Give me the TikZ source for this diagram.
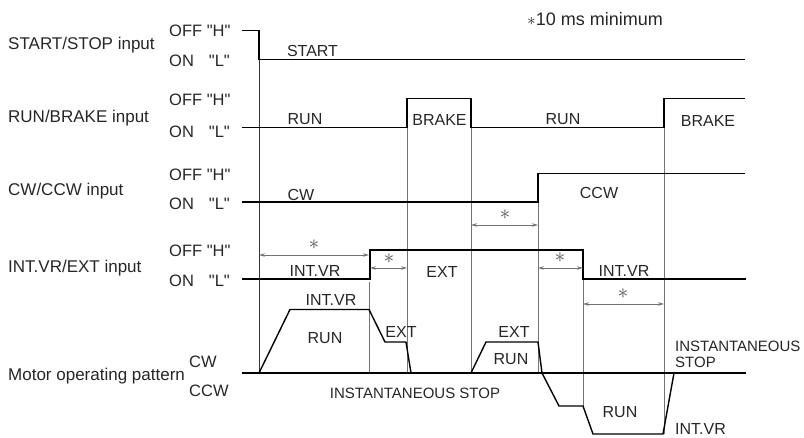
\documentclass[tikz,border=0pt]{standalone}
\usepackage{fontspec}
\setmainfont{Liberation Sans}[Ligatures=TeXOff]
\usetikzlibrary{arrows.meta}
\newcommand\fsz[1]{\fontsize{#1}{#1}\selectfont}
\begin{document}
\begin{tikzpicture}[x=1pt,y=-1pt,
  sig/.style={line width=1.4pt, black, line join=miter},
  guide/.style={line width=0.8pt, black!55},
  dimarrow/.style={line width=0.8pt, black!55, {Stealth[length=6pt,width=3.5pt]}-{Stealth[length=6pt,width=3.5pt]}},
  lab/.style={inner sep=0, anchor=base west, font=\fsz{17}, text=black!85},
  lvl/.style={inner sep=0, anchor=base west, font=\fsz{16.5}, text=black!85},
  lvlr/.style={inner sep=0, anchor=base east, font=\fsz{16.5}, text=black!85},
  txt/.style={inner sep=0, anchor=base, font=\fsz{16}, text=black!85},
  txtw/.style={inner sep=0, anchor=base west, font=\fsz{16}, text=black!85},
  star/.style={inner sep=0, text=black!70, font=\fsz{20}},
]
\useasboundingbox (0,0) rectangle (804,437);

% guide lines
\draw[line width=0.9pt, black!80] (259,59.5) -- (259,373);
\draw[guide] (369,282) -- (369,373);
\draw[guide] (407,127.5) -- (407,373);
\draw[guide] (471,127.5) -- (471,373);
\draw[guide] (538,202) -- (538,373);
\draw[guide] (583,279) -- (583,406);
\draw[guide] (664,127.5) -- (664,434);

% signals
\draw[sig] (242,30.5) -- (259,30.5) -- (259,59.5) -- (745,59.5);
\draw[sig] (242,127.5) -- (407,127.5) -- (407,98.5) -- (471,98.5) -- (471,127.5) -- (664,127.5) -- (664,98.5) -- (745,98.5);
\draw[sig] (242,202) -- (538,202) -- (538,173.5) -- (745,173.5);
\draw[sig] (242,279) -- (370,279) -- (370,250) -- (583,250) -- (583,279) -- (746,279);
\draw[sig] (242,373) -- (746,373);
\draw[sig, line join=round] (259,373) -- (290,309.5) -- (369,309.5) -- (385,342) -- (406,342) -- (411,373) -- (471,373) -- (486,342) -- (538,342) -- (542,373) -- (559,406) -- (583,406) -- (593,434) -- (663,434) -- (674,373);

% dimension arrows
\draw[dimarrow] (259,255) -- (369,255);
\node[star] (s1) at (314,245) {$\ast$};
\draw[dimarrow] (370,268) -- (407,268);
\node[star] (s2) at (389,259) {$\ast$};
\draw[dimarrow] (471,225) -- (538,225);
\node[star] (s3) at (505,215) {$\ast$};
\draw[dimarrow] (538,268) -- (583,268);
\node[star] (s4) at (560,258) {$\ast$};
\draw[dimarrow] (583,304) -- (664,304);
\node[star] (s5) at (623,294) {$\ast$};

% title note
\node[txtw, font=\fsz{18}] (note) at (527,25) {$\ast$10 ms minimum};

% left labels
\node[lab] (l1) at (8,49) {START/STOP input};
\node[lab] (l2) at (8,122) {RUN/BRAKE input};
\node[lab] (l3) at (8,195) {CW/CCW input};
\node[lab] (l4) at (8,272) {INT.VR/EXT input};
\node[lab] (l5) at (8,380) {Motor operating pattern};

% level labels
\node[lvl] (h1) at (169,36) {OFF "H"};
\node[lvl] (h2) at (169,105) {OFF "H"};
\node[lvl] (h3) at (169,180) {OFF "H"};
\node[lvl] (h4) at (169,256) {OFF "H"};
\node[lvl] (o1) at (169,66) {ON};
\node[lvl] (o2) at (169,137) {ON};
\node[lvl] (o3) at (169,209) {ON};
\node[lvl] (o4) at (169,286) {ON};
\node[lvlr] (q1) at (230,66) {"L"};
\node[lvlr] (q2) at (230,137) {"L"};
\node[lvlr] (q3) at (230,209) {"L"};
\node[lvlr] (q4) at (230,286) {"L"};
\node[lvl] (mcw) at (189,367) {CW};
\node[lvl] (mccw) at (189,396) {CCW};

% signal texts
\node[txt] (t1) at (312.5,56) {START};
\node[txt] (t2) at (305,124) {RUN};
\node[txt] (t3) at (439.5,125) {BRAKE};
\node[txt] (t4) at (563,124) {RUN};
\node[txt] (t5) at (708,126) {BRAKE};
\node[txt] (t6) at (301,200) {CW};
\node[txt] (t7) at (599,198) {CCW};
\node[txt] (t8) at (315,276) {INT.VR};
\node[txt] (t9) at (442,277) {EXT};
\node[txt] (t10) at (624,276) {INT.VR};

% motor texts
\node[txt] (m1) at (331,305) {INT.VR};
\node[txt] (m2) at (325,343) {RUN};
\node[txt] (m3) at (401,337) {EXT};
\node[txt] (m4) at (514,337) {EXT};
\node[txt] (m5) at (511,364) {RUN};
\node[txt, font=\fsz{15}] (m6) at (415,398) {INSTANTANEOUS STOP};
\node[txt] (m7) at (620,417) {RUN};
\node[txtw, font=\fsz{15}] (m8) at (675,351) {INSTANTANEOUS};
\node[txtw, font=\fsz{15}] (m9) at (675,367) {STOP};
\node[txtw] (m10) at (675,434) {INT.VR};
\end{tikzpicture}
\end{document}
